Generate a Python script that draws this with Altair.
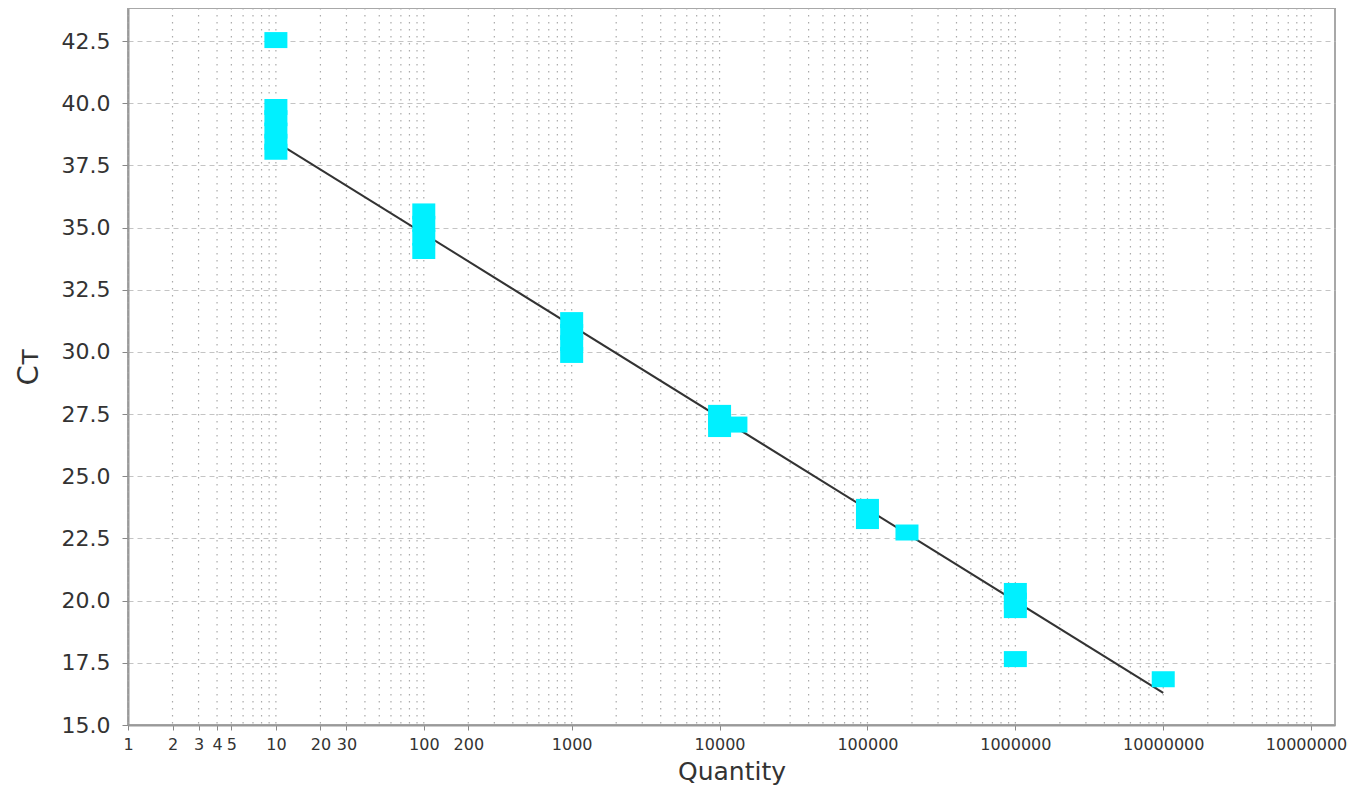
import altair as alt
import pandas as pd

# Standard-curve points (Quantity vs CT)
quantity = [10, 10, 10, 10, 10, 10,
            100, 100, 100, 100,
            1000, 1000, 1000, 1000,
            10000, 10000, 10000, 12900,
            100000, 100000, 185000,
            1000000, 1000000, 1000000, 1000000,
            10000000]
ct = [42.54, 39.85, 39.4, 38.9, 38.45, 38.05,
      35.65, 35.15, 34.6, 34.06,
      31.28, 30.8, 30.35, 29.88,
      27.55, 27.2, 26.9, 27.08,
      23.77, 23.2, 22.74,
      20.39, 20.0, 19.62, 17.65,
      16.84]

# Regression line end points
fit_quantity = [10, 10000000]
fit_ct = [38.45, 16.29]

x_tick_values = [1, 2, 3, 4, 5, 10, 20, 30, 100, 200, 1000, 10000, 100000,
                 1000000, 10000000, 100000000]
y_tick_values = [15.0, 17.5, 20.0, 22.5, 25.0, 27.5, 30.0, 32.5, 35.0,
                 37.5, 40.0, 42.5]
grid_mantissas = [1, 2, 3, 4, 5, 6, 7, 8, 9]
grid_decades = [1, 10, 100, 1000, 10000, 100000, 1000000, 10000000]
x_grid_values = [m * d for d in grid_decades for m in grid_mantissas] + [100000000]

points = pd.DataFrame({"Quantity": quantity, "CT": ct})
fit = pd.DataFrame({"Quantity": fit_quantity, "CT": fit_ct})
grid = pd.DataFrame({"Quantity": x_grid_values})

x_scale = alt.Scale(type="log", domain=[1, 145000000], nice=False)
y_scale = alt.Scale(domain=[15, 43.83], nice=False, zero=False)

FONT = "DejaVu Sans"
TEXT = "#333333"

x_axis = alt.Axis(
    values=x_tick_values,
    labelExpr="format(datum.value, 'd')",
    grid=False,
    tickSize=5, tickColor="#888888", tickWidth=1,
    labelPadding=6, labelFont=FONT, labelFontSize=16, labelColor=TEXT,
    labelFlush=False, labelOverlap=False,
    title="Quantity", titleFont=FONT, titleFontSize=25,
    titleFontWeight="normal", titleColor=TEXT, titlePadding=7,
    domainColor="#999999", domainWidth=2,
)
y_axis = alt.Axis(
    values=y_tick_values, format=".1f",
    grid=True, gridDash=[5, 4], gridColor="#c4c4c4", gridWidth=1,
    tickSize=6, tickColor="#888888", tickWidth=1,
    labelPadding=12, labelFont=FONT, labelFontSize=22, labelColor=TEXT,
    title="C\u1d1b", titleFont=FONT, titleFontSize=29,
    titleFontWeight="normal", titleColor=TEXT, titlePadding=18,
    domainColor="#999999", domainWidth=2,
)

grid_layer = alt.Chart(grid).mark_rule(
    color="#aaaaaa", strokeWidth=1.2, strokeDash=[1.5, 5.5]
).encode(
    x=alt.X("Quantity:Q", scale=x_scale, axis=x_axis),
)

line_layer = alt.Chart(fit).mark_line(color="#333333", strokeWidth=2).encode(
    x=alt.X("Quantity:Q", scale=x_scale),
    y=alt.Y("CT:Q", scale=y_scale, axis=y_axis),
)

point_layer = alt.Chart(points).mark_point(
    shape="M-1,-0.696L1,-0.696L1,0.696L-1,0.696Z",
    size=529, filled=True, color="#00F0FF", opacity=1, strokeWidth=0,
).encode(
    x=alt.X("Quantity:Q", scale=x_scale),
    y=alt.Y("CT:Q", scale=y_scale),
)

chart = alt.layer(grid_layer, line_layer, point_layer).properties(
    width=1207, height=717,
    autosize=alt.AutoSizeParams(type="none"),
    padding={"left": 120, "top": 0, "right": 13, "bottom": 60},
    background="white",
).configure_view(stroke="#a8a8a8", strokeWidth=2)

chart.save("out.html", embed_options={"renderer": "svg", "actions": False})
